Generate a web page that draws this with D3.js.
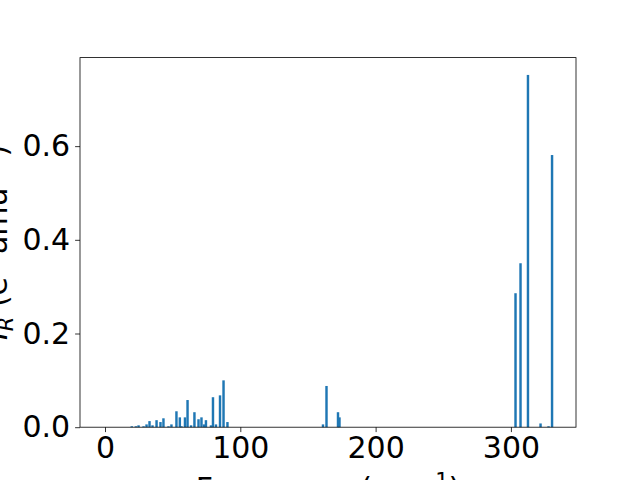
<!DOCTYPE html>
<html>
<head>
<meta charset="utf-8">
<script src="https://cdn.jsdelivr.net/npm/d3@7"></script>
<style>
  body { margin: 0; background: #fff; }
  svg { display: block; font-family: "DejaVu Sans", sans-serif; }
</style>
</head>
<body>
<div id="chart"></div>
<script>
// mode frequencies (cm^-1) and intensities
var freqs = [19.8, 22.8, 24.8, 28.5, 30.7, 32.9, 35.1, 38.1, 41.0, 43.2,
  46.9, 49.1, 52.8, 55.3, 56.5, 59.1, 61.0, 63.6, 66.1, 69.1,
  71.3, 73.2, 74.6, 78.3, 79.8, 82.0, 85.0, 87.6, 90.5,
  161.1, 163.7, 172.2, 173.3,
  303.4, 307.1, 312.6, 321.9, 327.8, 330.4]
var intensities = [0.002, 0.002, 0.004, 0.002, 0.006, 0.013, 0.004, 0.015, 0.011, 0.019,
  0.002, 0.006, 0.034, 0.021, 0.002, 0.021, 0.058, 0.004, 0.032, 0.017,
  0.021, 0.006, 0.015, 0.004, 0.064, 0.006, 0.068, 0.100, 0.011,
  0.006, 0.088, 0.032, 0.021,
  0.286, 0.350, 0.752, 0.008, 0.002, 0.581]
var xTicks = [0, 100, 200, 300]
var yTicks = [0.0, 0.2, 0.4, 0.6]

var width = 640, height = 480
var margin = {top: 57.6, left: 80, bottom: 52.8, right: 64}
var barWidth = 1.8
var fontSize = 30

var svg = d3.select("#chart").append("svg")
  .attr("width", width).attr("height", height)

var x = d3.scaleLinear().domain([-18.48, 348.1]).range([margin.left, width - margin.right])
var y = d3.scaleLinear().domain([0, 0.789]).range([height - margin.bottom, margin.top])

var data = freqs.map(function(f, i) { return {f: f, v: intensities[i]} })

svg.append("g")
  .selectAll("rect")
  .data(data)
  .enter().append("rect")
  .attr("x", function(d) { return x(d.f - barWidth / 2) })
  .attr("width", function(d) { return x(d.f + barWidth / 2) - x(d.f - barWidth / 2) })
  .attr("y", function(d) { return y(d.v) })
  .attr("height", function(d) { return y(0) - y(d.v) })
  .attr("fill", "#1f77b4")

var xAxis = svg.append("g")
  .attr("transform", "translate(0," + y(0) + ")")
  .call(d3.axisBottom(x).tickValues(xTicks).tickFormat(d3.format("d")).tickSize(4.9).tickPadding(4.9))
var yAxis = svg.append("g")
  .attr("transform", "translate(" + x.range()[0] + ",0)")
  .call(d3.axisLeft(y).tickValues(yTicks).tickFormat(d3.format(".1f")).tickSize(4.9).tickPadding(4.9))

;[xAxis, yAxis].forEach(function(g) {
  g.select(".domain").remove()
  g.selectAll(".tick line").attr("stroke", "#000").attr("stroke-width", 0.8)
  g.selectAll(".tick text")
    .attr("fill", "#000")
    .style("font-size", fontSize + "px")
    .style("font-family", "DejaVu Sans")
})

// frame
svg.append("rect")
  .attr("x", x.range()[0]).attr("y", y.range()[1])
  .attr("width", x.range()[1] - x.range()[0])
  .attr("height", y.range()[0] - y.range()[1])
  .attr("fill", "none").attr("stroke", "#000").attr("stroke-width", 0.8)

// x label (cut off by the bottom edge, as in the original)
var xl = svg.append("text")
  .attr("x", (x.range()[0] + x.range()[1]) / 2)
  .attr("y", 499)
  .attr("text-anchor", "middle")
  .style("font-size", fontSize + "px")
xl.append("tspan").text("Frequency (cm")
xl.append("tspan").attr("dy", -11).style("font-size", "21px").text("\u22121")
xl.append("tspan").attr("dy", 11).text(")")

// y label
var yl = svg.append("text")
  .attr("transform", "translate(7," + ((y.range()[0] + y.range()[1]) / 2) + ") rotate(-90)")
  .attr("text-anchor", "middle")
  .style("font-size", fontSize + "px")
yl.append("tspan").style("font-style", "italic").text("I")
yl.append("tspan").attr("dy", 6).style("font-size", "21px").style("font-style", "italic").text("R")
yl.append("tspan").attr("dy", -6).text(" (e")
yl.append("tspan").attr("dy", -11).style("font-size", "21px").text("2")
yl.append("tspan").attr("dy", 11).text(" amu")
yl.append("tspan").attr("dy", -11).style("font-size", "21px").text("\u22121")
yl.append("tspan").attr("dy", 11).text(")")
</script>
</body>
</html>
